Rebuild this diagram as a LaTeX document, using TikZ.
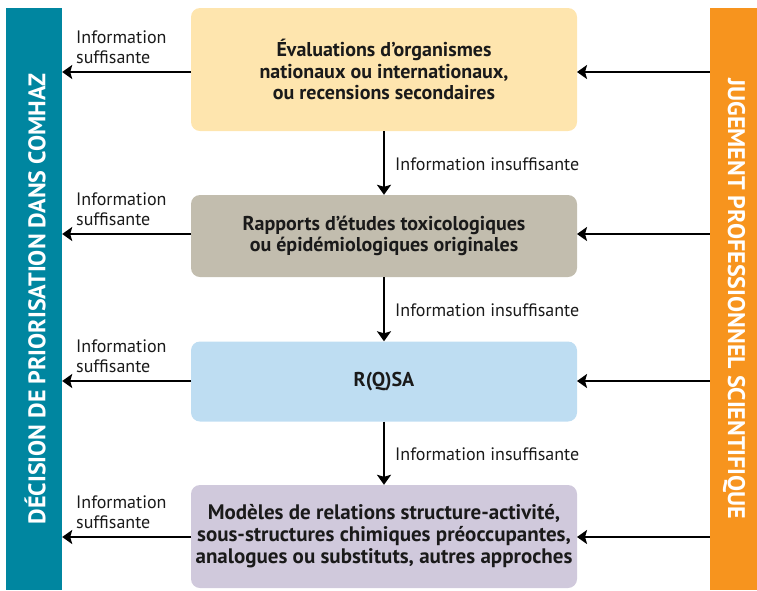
\documentclass[tikz,border=0pt]{standalone}
\usepackage{fontspec}
\setmainfont{PT Sans}
\usetikzlibrary{arrows.meta}
\definecolor{teal}{RGB}{0,134,160}
\definecolor{orangebar}{RGB}{247,148,30}
\definecolor{boxA}{RGB}{254,229,174}
\definecolor{boxB}{RGB}{194,189,174}
\definecolor{boxC}{RGB}{190,221,242}
\definecolor{boxD}{RGB}{208,201,220}
\definecolor{ink}{RGB}{26,26,26}
\begin{document}
\begin{tikzpicture}[x=1pt,y=-1pt,
  bar/.style={draw=none,minimum width=#1,minimum height=582,inner sep=0},
  barlabel/.style={text=white,font=\bfseries\fontsize{24}{26}\selectfont},
  stage/.style={draw=none,fill=#1,rounded corners=9,minimum width=386,inner sep=0,
    align=center,text=ink,font=\bfseries\fontsize{20}{21.5}\selectfont},
  flow/.style={line width=2.4pt,-{Stealth[length=10pt,width=14pt,inset=2pt]}},
  note/.style={text=ink,font=\fontsize{18}{20}\selectfont,inner sep=0,align=left}
]
\useasboundingbox (0,0) rectangle (757,590);

% side bars
\node[bar=56,fill=teal] (lb) at (34,299) {};
\node[bar=47,fill=orangebar] (rb) at (733.5,299) {};
\node[barlabel,rotate=90] (lbt) at (35,299) {DÉCISION DE PRIORISATION DANS COMHAZ};
\node[barlabel,rotate=-90] (rbt) at (734,299) {JUGEMENT PROFESSIONNEL SCIENTIFIQUE};

% the four information sources
\node[stage=boxA,minimum height=123] (b1) at (384,69.5)
  {Évaluations d’organismes\\nationaux ou internationaux,\\ou recensions secondaires};
\node[stage=boxB,minimum height=82] (b2) at (384,236)
  {Rapports d’études toxicologiques\\ou épidémiologiques originales};
\node[stage=boxC,minimum height=80] (b3) at (384,381.5) {R(Q)SA};
\node[stage=boxD,minimum height=103,font=\bfseries\fontsize{21}{22}\selectfont] (b4) at (384,536.5)
  {Modèles de relations structure-activité,\\sous-structures chimiques préoccupantes,\\analogues ou substituts, autres approches};

% arrows to the decision bar and from the judgement bar
\foreach \b/\y in {b1/72,b2/234,b3/381,b4/537}{
  \coordinate (l\b) at (191,\y);
  \coordinate (r\b) at (577,\y);
  \draw[flow] (l\b) -- (l\b -| lb.east);
  \draw[flow] (r\b -| rb.west) -- (r\b);
  \node[note,anchor=south west] at (76,\y-8) {Information\\suffisante};
}

% downward flow between sources
\foreach \a/\b in {b1/b2,b2/b3,b3/b4}{
  \draw[flow] (\a.south) -- (\b.north);
  \path (\a.south) -- (\b.north) node[midway,note,anchor=west,xshift=11,yshift=-1] {Information insuffisante};
}
\end{tikzpicture}
\end{document}
